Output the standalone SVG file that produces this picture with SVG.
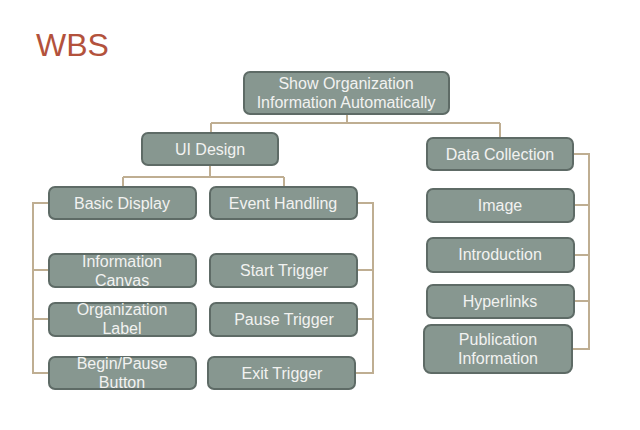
<svg xmlns="http://www.w3.org/2000/svg" width="640" height="430" viewBox="0 0 640 430">
<style>
.n rect{fill:#879790;stroke:#5e6b66;stroke-width:2}
.n text{font-family:"Liberation Sans",Arial,sans-serif;font-size:16px;fill:#f2f2f0;text-anchor:middle}
.c path{fill:none;stroke:#bfae92;stroke-width:2}
</style>
<rect width="640" height="430" fill="#ffffff"/>
<text x="36" y="56" font-family="Liberation Sans,Arial,sans-serif" font-size="32" fill="#b3523c">WBS</text>
<g class="c">
<path d="M347 114V123M211 123H500M211 123V133M500 123V138"/>
<path d="M210 165V177M123 177H284M123 177V187M284 177V187"/>
<path d="M49 203H33V373H49M33 270H49M33 319H49"/>
<path d="M357 203H373V373H355M373 270H357M373 319H357"/>
<path d="M573 154H589V349H572M589 205H574M589 255H574M589 301H574"/>
</g>
<g id="root" class="n"><rect x="244" y="72" width="205" height="42" rx="6"/><text x="346" y="89">Show Organization</text><text x="346" y="108">Information Automatically</text></g>
<g id="ui" class="n"><rect x="142" y="133" width="136" height="32" rx="6"/><text x="210" y="155">UI Design</text></g>
<g id="data" class="n"><rect x="427" y="138" width="146" height="32" rx="6"/><text x="500" y="160">Data Collection</text></g>
<g id="basic" class="n"><rect x="49" y="187" width="147" height="32" rx="6"/><text x="122" y="209">Basic Display</text></g>
<g id="event" class="n"><rect x="210" y="187" width="147" height="32" rx="6"/><text x="283" y="209">Event Handling</text></g>
<g id="canvas" class="n"><rect x="49" y="254" width="147" height="33" rx="6"/><text x="122" y="267">Information</text><text x="122" y="286">Canvas</text></g>
<g id="label" class="n"><rect x="49" y="303" width="147" height="33" rx="6"/><text x="122" y="315">Organization</text><text x="122" y="334">Label</text></g>
<g id="button" class="n"><rect x="49" y="357" width="147" height="32" rx="6"/><text x="122" y="369">Begin/Pause</text><text x="122" y="388">Button</text></g>
<g id="start" class="n"><rect x="210" y="254" width="147" height="33" rx="6"/><text x="284" y="276">Start Trigger</text></g>
<g id="pause" class="n"><rect x="210" y="303" width="147" height="33" rx="6"/><text x="284" y="325">Pause Trigger</text></g>
<g id="exit" class="n"><rect x="208" y="357" width="147" height="32" rx="6"/><text x="282" y="379">Exit Trigger</text></g>
<g id="image" class="n"><rect x="427" y="189" width="147" height="33" rx="6"/><text x="500" y="211">Image</text></g>
<g id="intro" class="n"><rect x="427" y="238" width="147" height="34" rx="6"/><text x="500" y="260">Introduction</text></g>
<g id="hyper" class="n"><rect x="427" y="285" width="147" height="33" rx="6"/><text x="500" y="307">Hyperlinks</text></g>
<g id="pub" class="n"><rect x="424" y="325" width="148" height="48" rx="7"/><text x="498" y="345">Publication</text><text x="498" y="364">Information</text></g>
</svg>
